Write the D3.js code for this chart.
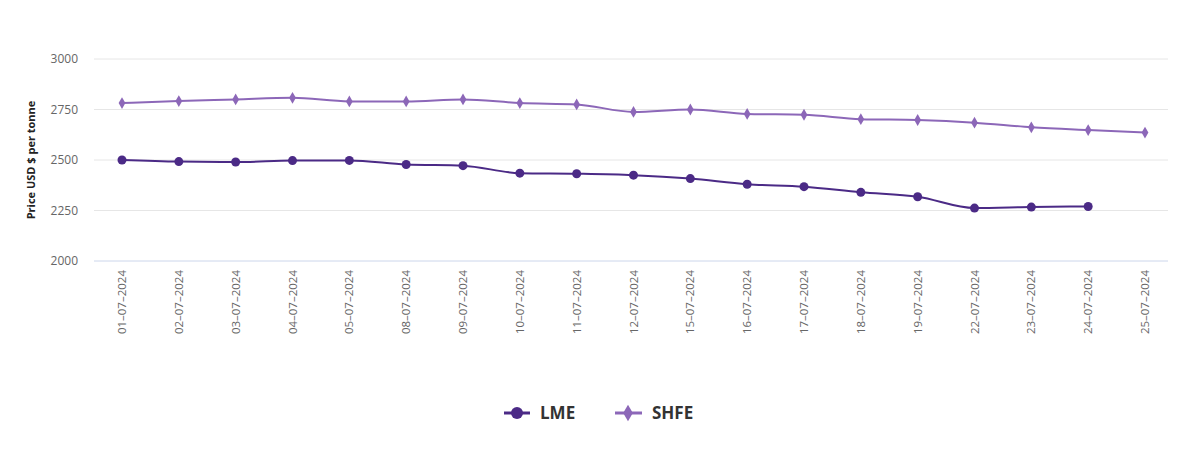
<!DOCTYPE html><html><head><meta charset="utf-8"><script src="https://cdn.jsdelivr.net/npm/d3@7"></script>
<style>body{margin:0;background:#fff}</style></head><body><svg id="c" width="1200" height="463"></svg>
<script>
const categories=["01-07-2024","02-07-2024","03-07-2024","04-07-2024","05-07-2024","08-07-2024","09-07-2024","10-07-2024","11-07-2024","12-07-2024","15-07-2024","16-07-2024","17-07-2024","18-07-2024","19-07-2024","22-07-2024","23-07-2024","24-07-2024","25-07-2024"];
const lme=[2500,2492,2490,2497,2498,2478,2472,2435,2432,2425,2408,2380,2368,2340,2318,2262,2267,2270,null];
const shfe=[2782,2792,2800,2808,2790,2790,2800,2782,2775,2738,2750,2728,2724,2702,2698,2685,2662,2648,2636];
const yTicks=[2000,2250,2500,2750,3000];
const svg=d3.select("#c");
const x=d3.scalePoint().domain(categories).range([122,1145]);
const y=d3.scaleLinear().domain([2000,3000]).range([261,59]);
const font="'Open Sans',sans-serif";
yTicks.forEach(t=>{
 svg.append("line").attr("x1",94).attr("x2",1168).attr("y1",y(t)).attr("y2",y(t)).attr("stroke",t==2000?"#ccd6eb":"#e6e6e6");
 svg.append("text").attr("x",78).attr("y",y(t)+4).attr("text-anchor","end").attr("font-family",font).attr("font-size",12).attr("fill","#666").text(t);
});
categories.forEach(c=>{
 svg.append("text").attr("transform",`translate(${x(c)+4},270) rotate(-90)`).attr("text-anchor","end").attr("font-family",font).attr("font-size",11.5).attr("fill","#666").text(c.replace(/-/g,"\u2013"));
});
svg.append("text").attr("transform","translate(35,160) rotate(-90)").attr("text-anchor","middle").attr("font-family",font).attr("font-size",11).attr("font-weight","bold").attr("fill","#222").text("Price USD $ per tonne");
const line=d3.line().defined(d=>d!=null).x((d,i)=>x(categories[i])).y(d=>y(d)).curve(d3.curveMonotoneX);
const c1="#4b2a86",c2="#8c67b8";
svg.append("path").datum(shfe).attr("d",line).attr("fill","none").attr("stroke",c2).attr("stroke-width",2);
svg.append("path").datum(lme).attr("d",line).attr("fill","none").attr("stroke",c1).attr("stroke-width",2);
const dia=d3.symbol().type(d3.symbolDiamond).size(40);
shfe.forEach((d,i)=>svg.append("path").attr("d",dia()).attr("transform",`translate(${x(categories[i])},${y(d)})`).attr("fill",c2));
lme.forEach((d,i)=>{if(d!=null)svg.append("circle").attr("cx",x(categories[i])).attr("cy",y(d)).attr("r",4.5).attr("fill",c1);});
// legend
const lg=svg.append("g").attr("font-family",font).attr("font-size",17).attr("font-weight","bold").attr("fill","#333");
lg.append("line").attr("x1",504).attr("x2",530).attr("y1",413).attr("y2",413).attr("stroke",c1).attr("stroke-width",3);
lg.append("circle").attr("cx",517).attr("cy",413).attr("r",6).attr("fill",c1);
lg.append("text").attr("x",540).attr("y",419).text("LME");
lg.append("line").attr("x1",615).attr("x2",642).attr("y1",413).attr("y2",413).attr("stroke",c2).attr("stroke-width",3);
lg.append("path").attr("d",d3.symbol().type(d3.symbolDiamond).size(80)()).attr("transform","translate(628,413)").attr("fill",c2);
lg.append("text").attr("x",652).attr("y",419).text("SHFE");
</script></body></html>
